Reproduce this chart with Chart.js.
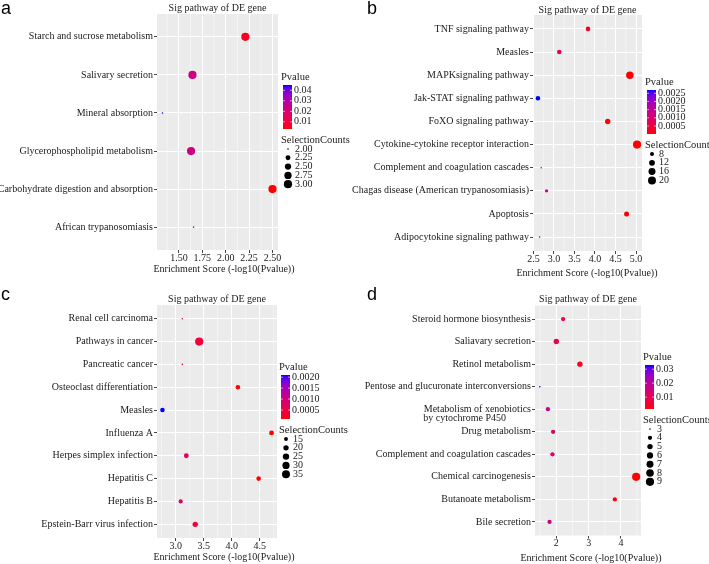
<!DOCTYPE html>
<html>
<head>
<meta charset="utf-8">
<script src="https://cdn.jsdelivr.net/npm/chart.js@4"></script>
<style>
  html, body { margin: 0; padding: 0; background: #fff; }
  #wrap { position: relative; width: 709px; height: 564px; overflow: hidden; }
  canvas { position: absolute; }
</style>
</head>
<body>
<div id="wrap">
  <canvas id="chartA" width="362" height="282" style="left:0;top:0"></canvas>
  <canvas id="chartB" width="364" height="282" style="left:345px;top:0"></canvas>
  <canvas id="chartC" width="362" height="282" style="left:0;top:282px"></canvas>
  <canvas id="chartD" width="364" height="282" style="left:345px;top:282px"></canvas>
</div>
<script>
// panel a (rows listed top to bottom)
const pathA = ['Starch and sucrose metabolism', 'Salivary secretion', 'Mineral absorption',
  'Glycerophospholipid metabolism', 'Carbohydrate digestion and absorption', 'African trypanosomiasis'];
const scoreA = [2.21, 1.645, 1.325, 1.63, 2.50, 1.657];
const pvalA = [0.0062, 0.023, 0.045, 0.023, 0.0032, 0.022];
const countA = [3, 3, 2, 3, 3, 2];
const xTicksA = [1.50, 1.75, 2.00, 2.25, 2.50];
const pTicksA = [0.01, 0.02, 0.03, 0.04];
const sTicksA = [2.00, 2.25, 2.50, 2.75, 3.00];

// panel b
const pathB = ['TNF signaling pathway', 'Measles', 'MAPKsignaling pathway', 'Jak-STAT signaling pathway',
  'FoXO signaling pathway', 'Cytokine-cytokine receptor interaction', 'Complement and coagulation cascades',
  'Chagas disease (American trypanosomiasis)', 'Apoptosis', 'Adipocytokine signaling pathway'];
const scoreB = [3.83, 3.13, 4.85, 2.61, 4.31, 5.025, 2.69, 2.82, 4.77, 2.65];
const pvalB = [0.00015, 0.00074, 0.000014, 0.0027, 0.00005, 0.000014, 0.0020, 0.0015, 0.000017, 0.0022];
const countB = [9, 9, 18, 9, 11, 21, 6, 7, 10, 6];
const xTicksB = [2.5, 3.0, 3.5, 4.0, 4.5, 5.0];
const pTicksB = [0.0005, 0.0010, 0.0015, 0.0020, 0.0025];
const sTicksB = [8, 12, 16, 20];

// panel c
const pathC = ['Renal cell carcinoma', 'Pathways in cancer', 'Pancreatic cancer', 'Osteoclast differentiation',
  'Measles', 'Influenza A', 'Herpes simplex infection', 'Hepatitis C', 'Hepatitis B', 'Epstein-Barr virus infection'];
const scoreC = [3.12, 3.42, 3.12, 4.11, 2.765, 4.71, 3.19, 4.48, 3.09, 3.35];
const pvalC = [0.0008, 0.0004, 0.0008, 0.0001, 0.0021, 0.00009, 0.0007, 0.0001, 0.0008, 0.00045];
const countC = [12, 37, 12, 17, 17, 18, 18, 17, 16, 20];
const xTicksC = [3.0, 3.5, 4.0, 4.5];
const pTicksC = [0.0005, 0.0010, 0.0015, 0.0020];
const sTicksC = [15, 20, 25, 30, 35];

// panel d
const pathD = ['Steroid hormone biosynthesis', 'Saliavary secretion', 'Retinol metabolism',
  'Pentose and glucuronate interconversions', ['', 'Metabolism of xenobiotics', 'by cytochrome P450'],
  'Drug metabolism', 'Complement and coagulation cascades', 'Chemical carcinogenesis',
  'Butanoate metabolism', 'Bile secretion'];
const scoreD = [2.21, 2.00, 2.73, 1.49, 1.74, 1.90, 1.88, 4.47, 3.81, 1.79];
const pvalD = [0.0062, 0.010, 0.0042, 0.033, 0.018, 0.0126, 0.013, 0.0015, 0.002, 0.016];
const countD = [4, 5, 5, 3, 4, 4, 4, 9, 4, 4];
const xTicksD = [2, 3, 4];
const pTicksD = [0.01, 0.02, 0.03];
const sTicksD = [3, 4, 5, 6, 7, 8, 9];

const SERIF = '"Liberation Serif", "Times New Roman", serif';
const TXT = '#1a1a1a';

// red -> blue gradient interpolated in CIELAB, like ggplot's scale_colour_gradient
function toLab(rgb) {
  const lin = rgb.map(c => { c /= 255; return c <= 0.04045 ? c / 12.92 : Math.pow((c + 0.055) / 1.055, 2.4); });
  const X = (lin[0] * 0.4124 + lin[1] * 0.3576 + lin[2] * 0.1805) / 0.95047;
  const Y = lin[0] * 0.2126 + lin[1] * 0.7152 + lin[2] * 0.0722;
  const Z = (lin[0] * 0.0193 + lin[1] * 0.1192 + lin[2] * 0.9505) / 1.08883;
  const f = t => t > 0.008856 ? Math.cbrt(t) : 7.787 * t + 16 / 116;
  return [116 * f(Y) - 16, 500 * (f(X) - f(Y)), 200 * (f(Y) - f(Z))];
}
function fromLab([L, a, b]) {
  const fy = (L + 16) / 116, fx = fy + a / 500, fz = fy - b / 200;
  const inv = t => t * t * t > 0.008856 ? t * t * t : (t - 16 / 116) / 7.787;
  const X = inv(fx) * 0.95047, Y = inv(fy), Z = inv(fz) * 1.08883;
  const r = 3.2406 * X - 1.5372 * Y - 0.4986 * Z;
  const g = -0.9689 * X + 1.8758 * Y + 0.0415 * Z;
  const bl = 0.0557 * X - 0.2040 * Y + 1.0570 * Z;
  const gam = c => { c = Math.min(1, Math.max(0, c)); return Math.round(255 * (c <= 0.0031308 ? 12.92 * c : 1.055 * Math.pow(c, 1 / 2.4) - 0.055)); };
  return `rgb(${gam(r)},${gam(g)},${gam(bl)})`;
}
const LOW = toLab([255, 0, 0]), HIGH = toLab([0, 0, 255]);
const gradColor = t => fromLab(LOW.map((v, i) => v + (HIGH[i] - v) * t));

// size scale: radius grows with sqrt of rescaled count
const R_MIN = 0.8, R_MAX = 4.1;
const sizeOf = (c, lo, hi) => R_MIN + (R_MAX - R_MIN) * Math.sqrt((c - lo) / (hi - lo));

const measureCtx = document.createElement('canvas').getContext('2d');
measureCtx.font = '10px ' + SERIF;
function padLines(lines) {
  const w = Math.max(...lines.map(l => measureCtx.measureText(l).width));
  return lines.map(l => { let s = l; while (measureCtx.measureText(s + ' ').width <= w + 1) s += ' '; return s; });
}

const panelPlugin = {
  id: 'panel',
  beforeDraw(chart, args, o) {
    const { ctx, chartArea: a } = chart;
    const xs = chart.scales.x;
    ctx.save();
    ctx.fillStyle = '#EBEBEB';
    ctx.fillRect(a.left, a.top, a.width, a.height);
    // minor grid lines between major ticks
    const t = o.xTicks, step = t[1] - t[0];
    const minors = [t[0] - step / 2];
    for (let i = 0; i < t.length - 1; i++) minors.push((t[i] + t[i + 1]) / 2);
    minors.push(t[t.length - 1] + step / 2);
    ctx.strokeStyle = '#FAFAFA';
    ctx.lineWidth = 0.6;
    minors.filter(v => v > xs.min && v < xs.max).forEach(v => {
      const px = xs.getPixelForValue(v);
      ctx.beginPath(); ctx.moveTo(px, a.top); ctx.lineTo(px, a.bottom); ctx.stroke();
    });
    ctx.restore();
  },
  afterDraw(chart, args, o) {
    const { ctx, chartArea: a } = chart;
    ctx.save();
    // panel letter
    ctx.fillStyle = '#000';
    ctx.font = '18px "Liberation Sans", Arial, sans-serif';
    ctx.textAlign = 'left'; ctx.textBaseline = 'alphabetic';
    ctx.fillText(o.letter, o.letterPos[0], o.letterPos[1]);
    // titles
    ctx.font = '10px ' + SERIF;
    ctx.fillStyle = TXT;
    ctx.textAlign = 'center'; ctx.textBaseline = 'middle';
    ctx.fillText('Sig pathway of DE gene', (a.left + a.right) / 2, o.titleY);
    ctx.fillText('Enrichment Score (-log10(Pvalue))', o.axisTitleX, o.axisTitleY);

    // colour bar legend
    const L = o.legend.x, T = o.legend.y;
    ctx.textAlign = 'left';
    ctx.font = '10.5px ' + SERIF;
    ctx.fillText('Pvalue', L, T);
    const bx = L + 2, bw = 9, by = T + 8, bh = 44;
    const pmin = Math.min(...o.pval), pmax = Math.max(...o.pval);
    const grad = ctx.createLinearGradient(0, by + bh, 0, by);
    for (let i = 0; i <= 20; i++) grad.addColorStop(i / 20, gradColor(i / 20));
    ctx.fillStyle = grad;
    ctx.fillRect(bx, by, bw, bh);
    ctx.strokeStyle = '#fff'; ctx.lineWidth = 0.6;
    ctx.font = '10px ' + SERIF;
    ctx.fillStyle = TXT;
    o.pTicks.forEach(v => {
      const y = by + bh - (v - pmin) / (pmax - pmin) * bh;
      ctx.beginPath();
      ctx.moveTo(bx, y); ctx.lineTo(bx + 2, y);
      ctx.moveTo(bx + bw - 2, y); ctx.lineTo(bx + bw, y);
      ctx.stroke();
      ctx.fillText(v.toFixed(o.pDec), bx + bw + 2, y);
    });

    // size legend
    ctx.font = '10.5px ' + SERIF;
    ctx.fillText('SelectionCounts', L, T + 63);
    const cmin = Math.min(...o.count), cmax = Math.max(...o.count);
    ctx.font = '10px ' + SERIF;
    o.sTicks.forEach((c, i) => {
      const y = T + 72 + i * 8.8;
      ctx.fillStyle = '#000';
      ctx.beginPath(); ctx.arc(L + 7, y, sizeOf(c, cmin, cmax), 0, Math.PI * 2); ctx.fill();
      ctx.fillStyle = TXT;
      ctx.fillText(c.toFixed(o.sDec), L + 14, y);
    });
    ctx.restore();
  }
};

function makePanel(p) {
  const el = document.getElementById(p.id);
  const W = el.width, H = el.height, n = p.names.length;
  const lo = Math.min(...p.score), hi = Math.max(...p.score), ex = (hi - lo) * 0.05;
  const pmin = Math.min(...p.pval), pmax = Math.max(...p.pval);
  const cmin = Math.min(...p.count), cmax = Math.max(...p.count);
  const grid = { color: '#FFFFFF', lineWidth: 1, tickColor: '#444', tickLength: 3, tickWidth: 1 };
  return new Chart(el, {
    type: 'scatter',
    data: {
      datasets: [{
        data: p.score.map((v, i) => ({ x: v, y: n - i })),
        pointRadius: p.count.map(c => sizeOf(c, cmin, cmax)),
        pointHoverRadius: p.count.map(c => sizeOf(c, cmin, cmax)),
        pointBackgroundColor: p.pval.map(v => gradColor((v - pmin) / (pmax - pmin))),
        pointBorderWidth: 0
      }]
    },
    options: {
      responsive: false,
      animation: false,
      events: [],
      layout: { padding: { top: p.area.top, right: W - p.area.right, left: 0, bottom: 0 } },
      plugins: {
        legend: { display: false },
        tooltip: { enabled: false },
        panel: {
          letter: p.letter, letterPos: p.letterPos, titleY: p.titleY,
          axisTitleX: p.axisTitleX, axisTitleY: p.axisTitleY, legend: p.legend,
          xTicks: p.xTicks, pTicks: p.pTicks, pDec: p.pDec, sTicks: p.sTicks, sDec: p.sDec,
          pval: p.pval, count: p.count
        }
      },
      scales: {
        x: {
          type: 'linear', min: lo - ex, max: hi + ex,
          afterBuildTicks: s => { s.ticks = p.xTicks.map(v => ({ value: v })); },
          afterFit: s => { s.height = H - p.area.bottom; },
          ticks: { autoSkip: false, maxRotation: 0, padding: 0, color: TXT,
            font: { family: SERIF, size: 10, lineHeight: 1 },
            callback: v => v.toFixed(p.xDec) },
          grid: grid,
          border: { display: false }
        },
        y: {
          type: 'linear', min: 0.4, max: n + 0.6,
          afterBuildTicks: s => { s.ticks = p.names.map((_, i) => ({ value: n - i })); },
          afterFit: s => { s.width = p.area.left; },
          ticks: { autoSkip: false, padding: 1, color: TXT,
            font: { family: SERIF, size: 10, lineHeight: 0.9 },
            callback: v => {
              const lab = p.names[n - Math.round(v)];
              return Array.isArray(lab) ? padLines(lab) : lab;
            } },
          grid: grid,
          border: { display: false }
        }
      }
    },
    plugins: [panelPlugin]
  });
}

makePanel({ id: 'chartA', letter: 'a', names: pathA, score: scoreA, pval: pvalA, count: countA,
  xTicks: xTicksA, xDec: 2, pTicks: pTicksA, pDec: 2, sTicks: sTicksA, sDec: 2,
  area: { left: 157, right: 278, top: 14, bottom: 250 }, titleY: 8, axisTitleX: 224, axisTitleY: 269,
  letterPos: [1, 14], legend: { x: 281, y: 77 } });

makePanel({ id: 'chartB', letter: 'b', names: pathB, score: scoreB, pval: pvalB, count: countB,
  xTicks: xTicksB, xDec: 1, pTicks: pTicksB, pDec: 4, sTicks: sTicksB, sDec: 0,
  area: { left: 188, right: 297, top: 15, bottom: 251 }, titleY: 10, axisTitleX: 242, axisTitleY: 273,
  letterPos: [22, 14], legend: { x: 300, y: 82 } });

makePanel({ id: 'chartC', letter: 'c', names: pathC, score: scoreC, pval: pvalC, count: countC,
  xTicks: xTicksC, xDec: 1, pTicks: pTicksC, pDec: 4, sTicks: sTicksC, sDec: 0,
  area: { left: 157, right: 277, top: 23, bottom: 256 }, titleY: 17, axisTitleX: 224, axisTitleY: 275,
  letterPos: [1, 18], legend: { x: 279, y: 85 } });

makePanel({ id: 'chartD', letter: 'd', names: pathD, score: scoreD, pval: pvalD, count: countD,
  xTicks: xTicksD, xDec: 0, pTicks: pTicksD, pDec: 2, sTicks: sTicksD, sDec: 0,
  area: { left: 190, right: 296, top: 23.5, bottom: 253.5 }, titleY: 17, axisTitleX: 246, axisTitleY: 276,
  letterPos: [22, 18], legend: { x: 298, y: 75 } });
</script>
</body>
</html>
